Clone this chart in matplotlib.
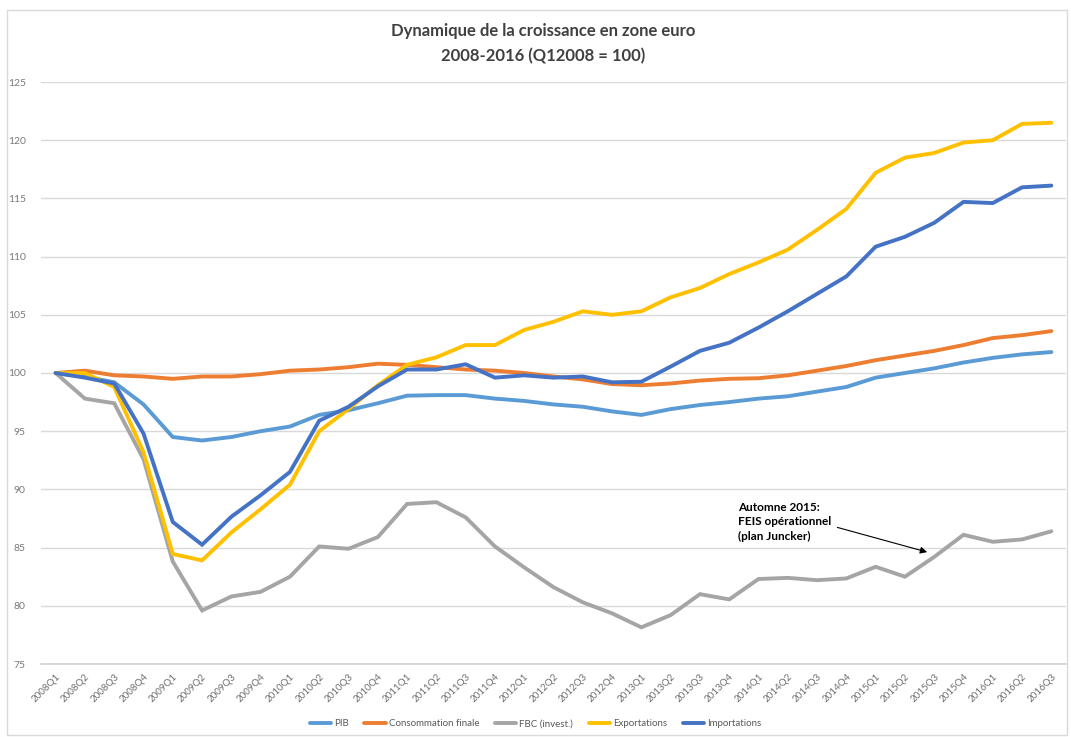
import matplotlib

matplotlib.use("Agg")
import matplotlib.pyplot as plt
from matplotlib.patches import Rectangle

plt.rcParams["font.family"] = ["Lato", "DejaVu Sans"]

quarters = [f"{y}Q{q}" for y in range(2008, 2017) for q in range(1, 5)][:35]

pib = [100.0, 99.7, 99.2, 97.3, 94.5, 94.2, 94.5, 95.0, 95.4, 96.4, 96.8, 97.4,
       98.05, 98.1, 98.1, 97.8, 97.6, 97.3, 97.1, 96.7, 96.4, 96.9, 97.25, 97.5,
       97.8, 98.0, 98.4, 98.8, 99.6, 100.0, 100.4, 100.9, 101.3, 101.6, 101.8]
conso = [100.0, 100.2, 99.8, 99.7, 99.5, 99.7, 99.7, 99.9, 100.2, 100.3, 100.5, 100.8,
         100.7, 100.5, 100.3, 100.2, 100.0, 99.7, 99.45, 99.05, 98.95, 99.1, 99.35, 99.5,
         99.55, 99.8, 100.2, 100.6, 101.1, 101.5, 101.9, 102.4, 103.0, 103.25, 103.6]
fbc = [100.0, 97.8, 97.4, 92.6, 83.8, 79.6, 80.8, 81.2, 82.5, 85.1, 84.9, 85.9,
       88.75, 88.9, 87.6, 85.1, 83.3, 81.6, 80.3, 79.35, 78.15, 79.2, 81.0, 80.55,
       82.3, 82.4, 82.2, 82.35, 83.35, 82.5, 84.2, 86.1, 85.5, 85.7, 86.4]
exports = [100.0, 100.0, 98.8, 93.2, 84.45, 83.9, 86.3, 88.3, 90.4, 95.0, 96.9, 98.95,
           100.7, 101.35, 102.4, 102.4, 103.7, 104.4, 105.3, 105.0, 105.3, 106.5, 107.3, 108.5,
           109.5, 110.6, 112.3, 114.1, 117.2, 118.5, 118.9, 119.8, 120.0, 121.4, 121.5]
imports = [100.0, 99.6, 99.1, 94.8, 87.2, 85.25, 87.65, 89.5, 91.5, 95.9, 97.1, 98.85,
           100.3, 100.3, 100.75, 99.6, 99.8, 99.6, 99.7, 99.2, 99.25, 100.55, 101.9, 102.6,
           103.9, 105.3, 106.8, 108.3, 110.85, 111.7, 112.9, 114.7, 114.6, 115.95, 116.1]

series = [
    ("PIB", pib, "#5B9BD5"),
    ("Consommation finale", conso, "#ED7D31"),
    ("FBC (invest.)", fbc, "#A5A5A5"),
    ("Exportations", exports, "#FFC000"),
    ("Importations", imports, "#4472C4"),
]

fig = plt.figure(figsize=(10.71, 7.37), dpi=100)
ax = fig.add_axes([41 / 1071, 1 - 664 / 737, 1025 / 1071, 582 / 737])

x = range(len(quarters))
for name, vals, color in series:
    ax.plot(x, vals, color=color, linewidth=2.8, label=name,
            solid_joinstyle="miter", solid_capstyle="round")

ax.set_xlim(-0.5, len(quarters) - 0.5)
ax.set_ylim(75, 125)
ax.set_yticks(range(75, 126, 5))
ax.set_xticks(list(x))
ax.set_xticklabels(quarters, rotation=45, ha="right", va="top",
                   rotation_mode="anchor", fontsize=7, color="#6E6E6E")
ax.tick_params(axis="y", length=0, pad=11, labelsize=7.5, labelcolor="#7A7A7A")
ax.tick_params(axis="x", length=0, pad=6)
ax.grid(axis="y", color="#D9D9D9", linewidth=1)
ax.set_axisbelow(True)
for side in ("top", "right", "left"):
    ax.spines[side].set_visible(False)
ax.spines["bottom"].set_color("#D0D0D0")
ax.spines["bottom"].set_linewidth(1.2)

ax.text(23.3, 87.2, "Automne 2015:\nFEIS opérationnel\n(plan Juncker)",
        fontsize=8.5, fontweight="bold", color="black", va="center", ha="left",
        linespacing=1.35)
ax.annotate("", xy=(29.85, 84.55), xytext=(26.6, 86.8),
            arrowprops=dict(arrowstyle="-|>", color="black", lw=0.8,
                            mutation_scale=10))

fig.text(0.507, 0.958, "Dynamique de la croissance en zone euro",
         ha="center", va="center", fontsize=12, fontweight="bold", color="#404040")
fig.text(0.507, 0.924, "2008-2016 (Q12008 = 100)",
         ha="center", va="center", fontsize=12, fontweight="bold", color="#404040")

fig.legend(loc="center", bbox_to_anchor=(0.5, 1 - 724 / 737), ncol=5,
           frameon=False, fontsize=7, handlelength=2.2, columnspacing=1.6,
           handletextpad=0.3, labelcolor="#595959")

fig.patches.append(Rectangle((7 / 1071, 2 / 737), 1060 / 1071, 725 / 737,
                             transform=fig.transFigure, fill=False,
                             edgecolor="#D9D9D9", linewidth=1))

fig.savefig("out.png", dpi=100)
